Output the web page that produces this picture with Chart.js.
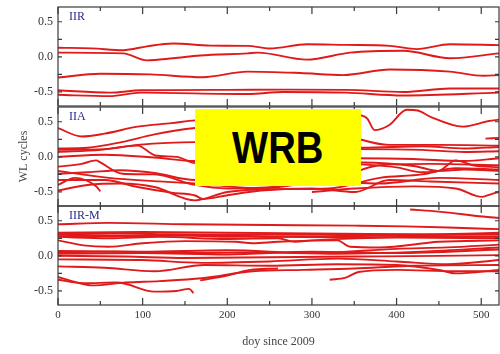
<!DOCTYPE html>
<html>
<head>
<meta charset="utf-8">
<script src="https://cdn.jsdelivr.net/npm/chart.js@4.4.0/dist/chart.umd.min.js"></script>
<style>
  body { margin: 0; background: #fff; }
  #wrap { position: relative; width: 500px; height: 354px; overflow: hidden; }
  .panel { position: absolute; left: 0; width: 500px; }
  #wrb { position: absolute; left: 195px; top: 109px; width: 166px; height: 77px; background: #ffff00;
         display: flex; align-items: center; justify-content: center; }
  #wrb span { font-family: 'Liberation Sans', Arial, sans-serif; font-weight: bold; font-size: 45px;
              color: #000; display: inline-block; transform: scaleX(0.85); }
</style>
</head>
<body>
<div id="wrap">
  <div class="panel" style="top:0;height:108px"><canvas id="c1" width="500" height="108"></canvas></div>
  <div class="panel" style="top:100px;height:108px"><canvas id="c2" width="500" height="108"></canvas></div>
  <div class="panel" style="top:199px;height:155px"><canvas id="c3" width="500" height="155"></canvas></div>
  <div id="wrb"><span>WRB</span></div>
</div>
<script>
// panel names
var panelLabels = ['IIR', 'IIA', 'IIR-M'];
var xTicks = [0, 100, 200, 300, 400, 500];
var yTicks = [-0.5, 0, 0.5];

// each line = list of [doy, WL cycles]
var iirLines = [
  [[0,0.13],[40,0.12],[77,0.095],[105,0.15],[136,0.19],[180,0.16],[224,0.157],[250,0.12],[294,0.18],[340,0.17],[392,0.157],[424,0.11],[463,0.18],[521,0.167]],
  [[0,0.06],[77,0.05],[105,-0.05],[136,-0.02],[168,0.02],[224,0.05],[236,0.06],[294,-0.04],[345,0.06],[408,0.086],[463,-0.02],[521,0.05]],
  [[0,-0.295],[50,-0.24],[109,-0.25],[171,-0.29],[224,-0.21],[286,-0.23],[337,-0.26],[392,-0.18],[463,-0.21],[503,-0.27],[521,-0.26]],
  [[0,-0.476],[61,-0.51],[98,-0.476],[200,-0.47],[266,-0.467],[340,-0.47],[408,-0.5],[463,-0.45],[521,-0.45]],
  [[0,-0.54],[61,-0.56],[98,-0.51],[224,-0.53],[266,-0.5],[340,-0.51],[408,-0.55],[521,-0.51]]
];

var iiaLines = [
  [[0,0.41],[28,0.29],[55,0.33],[94,0.43],[134,0.48],[162,0.52],[220,0.55],[280,0.58],[330,0.6],[351,0.6],[365,0.55],[374,0.38],[391,0.45],[412,0.67],[425,0.66],[440,0.57],[478,0.43],[509,0.51],[521,0.53]],
  [[0,0.12],[35,0.13],[75,0.21],[114,0.32],[162,0.41],[220,0.45],[280,0.42],[340,0.3],[391,0.17],[450,0.17],[521,0.16]],
  [[0,0.10],[55,0.11],[94,0.17],[162,0.21],[230,0.2],[300,0.16],[360,0.13],[430,0.15],[480,0.12],[521,0.14]],
  [[0,0.07],[50,0.1],[94,0.16],[115,0.02],[140,0.0],[162,-0.09],[220,-0.12],[280,-0.05],[351,-0.02],[420,-0.03],[480,-0.06],[521,-0.02]],
  [[0,0.0],[55,0.03],[114,-0.01],[162,-0.06],[250,-0.04],[351,0.11],[430,0.1],[480,0.07],[521,0.08]],
  [[0,-0.14],[28,-0.1],[45,-0.05],[50,-0.08],[76,-0.24],[114,-0.25],[162,-0.4],[200,-0.45],[260,-0.42],[330,-0.3],[380,-0.12],[440,-0.1],[521,-0.12]],
  [[0,-0.24],[35,-0.22],[75,-0.19],[114,-0.23],[162,-0.33],[230,-0.3],[300,-0.2],[360,-0.08],[420,-0.13],[450,-0.2],[480,-0.18],[521,-0.2]],
  [[0,-0.33],[55,-0.33],[94,-0.43],[134,-0.51],[162,-0.55],[171,-0.6],[199,-0.55],[240,-0.48],[300,-0.45],[351,-0.5],[391,-0.33],[440,-0.35],[521,-0.38]],
  [[0,-0.4],[20,-0.3],[45,-0.42],[50,-0.49]],
  [[0,-0.48],[35,-0.4],[75,-0.38],[114,-0.43],[162,-0.62],[200,-0.5],[260,-0.46],[320,-0.45],[380,-0.3],[430,-0.25],[470,-0.16],[521,-0.18]],
  [[300,-0.5],[351,-0.45],[420,-0.42],[470,-0.45],[501,-0.57],[512,-0.53],[521,-0.5]],
  [[351,-0.1],[400,-0.15],[430,-0.22],[450,-0.2],[470,-0.05],[490,-0.12],[521,-0.15]],
  [[0,-0.2],[60,-0.3],[120,-0.35],[162,-0.38],[240,-0.45],[320,-0.35],[380,-0.38],[450,-0.3],[521,-0.33]],
  [[505,0.26],[521,0.27]]
];

var iirmLines = [
  [[0,0.45],[60,0.47],[150,0.45],[250,0.44],[350,0.43],[410,0.42],[470,0.4],[521,0.38]],
  [[0,0.33],[100,0.34],[200,0.33],[300,0.32],[400,0.31],[521,0.3]],
  [[0,0.31],[60,0.32],[120,0.31],[220,0.3],[320,0.31],[420,0.3],[521,0.31]],
  [[0,0.3],[80,0.29],[130,0.3],[200,0.27],[300,0.28],[400,0.29],[521,0.33]],
  [[0,0.28],[90,0.28],[180,0.29],[260,0.27],[360,0.26],[450,0.28],[521,0.27]],
  [[0,0.27],[60,0.25],[120,0.27],[200,0.24],[260,0.25],[280,0.2],[300,0.22],[400,0.26],[521,0.25]],
  [[0,0.22],[30,0.15],[60,0.13],[100,0.18],[150,0.21],[210,0.2],[230,0.18],[260,0.2],[330,0.22],[345,0.13],[380,0.12],[450,0.2],[521,0.22]],
  [[0,0.07],[100,0.06],[200,0.08],[300,0.04],[400,0.1],[460,0.12],[521,0.16]],
  [[0,0.05],[70,0.06],[150,0.04],[230,0.05],[330,0.03],[430,0.06],[521,0.12]],
  [[0,0.03],[100,0.04],[200,0.02],[300,0.06],[400,0.04],[521,0.09]],
  [[0,0.0],[80,-0.01],[150,-0.03],[250,-0.02],[350,-0.01],[450,0.0],[521,0.01]],
  [[0,-0.05],[100,-0.06],[170,-0.1],[250,-0.08],[330,-0.04],[400,-0.08],[460,-0.12],[521,-0.06]],
  [[0,-0.15],[55,-0.17],[114,-0.22],[173,-0.13],[250,-0.14],[330,-0.12],[400,-0.13],[450,-0.2],[470,-0.25],[521,-0.2]],
  [[0,-0.3],[20,-0.37],[40,-0.42],[80,-0.38],[120,-0.36],[170,-0.32],[230,-0.22],[290,-0.2],[350,-0.18],[420,-0.14],[521,-0.13]],
  [[0,-0.34],[30,-0.39],[70,-0.38],[114,-0.51],[140,-0.5],[155,-0.47],[160,-0.53]],
  [[168,-0.35],[200,-0.28],[227,-0.2],[260,-0.18]],
  [[321,-0.34],[340,-0.31],[355,-0.23],[400,-0.2],[470,-0.22],[521,-0.22]],
  [[416,0.66],[450,0.63],[502,0.56],[521,0.54]]
];

var serif = '"Liberation Serif", "Times New Roman", serif';

// frame, inward ticks and panel name
var framePlugin = {
  id: 'frame',
  afterDatasetsDraw: function(chart, args, opts) {
    var ctx = chart.ctx, a = chart.chartArea;
    var x = chart.scales.x, y = chart.scales.y;
    ctx.save();
    ctx.strokeStyle = '#3a3a3a';
    ctx.lineWidth = 1.2;
    ctx.beginPath();
    for (var v = 0; v <= x.max; v += 50) {
      var px = x.getPixelForValue(v);
      var len = v % 100 === 0 ? 7 : 4;
      ctx.moveTo(px, a.top); ctx.lineTo(px, a.top + len);
      ctx.moveTo(px, a.bottom); ctx.lineTo(px, a.bottom - len);
    }
    for (var w = -0.5; w <= 0.5; w += 0.25) {
      var py = y.getPixelForValue(w);
      ctx.moveTo(a.left, py); ctx.lineTo(a.left + 4, py);
      ctx.moveTo(a.right, py); ctx.lineTo(a.right - 4, py);
    }
    ctx.stroke();
    ctx.strokeRect(a.left, a.top, a.right - a.left, a.bottom - a.top);
    ctx.fillStyle = '#2b2b8c';
    ctx.font = '12px ' + serif;
    ctx.textBaseline = 'middle';
    ctx.fillText(opts.text, a.left + 11, a.top + 10);
    ctx.restore();
  }
};

function makePanel(id, lines, label, showX, showYTitle, padTop, padBottom) {
  var datasets = lines.map(function(l) {
    return {
      data: l.map(function(p) { return {x: p[0], y: p[1]}; }),
      borderColor: 'rgb(224,26,26)',
      borderWidth: 1.9,
      pointRadius: 0,
      cubicInterpolationMode: 'monotone',
      fill: false
    };
  });
  return new Chart(document.getElementById(id), {
    type: 'line',
    data: { datasets: datasets },
    options: {
      responsive: false,
      animation: false,
      layout: { padding: { top: padTop, bottom: padBottom, left: 0, right: 1 } },
      plugins: { legend: { display: false }, tooltip: { enabled: false }, frame: { text: label } },
      scales: {
        x: {
          type: 'linear', min: 0, max: 521,
          display: showX,
          grid: { display: false, drawTicks: false },
          border: { display: false },
          afterBuildTicks: function(s) { s.ticks = xTicks.map(function(v) { return {value: v}; }); },
          afterFit: function(s) {
            if (showX) s.height = 49;
            s.paddingLeft = 0; s.paddingRight = 0;
          },
          ticks: { font: { family: serif, size: 11 }, color: '#333', padding: 4, maxRotation: 0 },
          title: { display: true, text: 'doy since 2009', font: { family: serif, size: 12 }, color: '#444', padding: { bottom: 5 } }
        },
        y: {
          min: -0.7, max: 0.71,
          grid: { display: false, drawTicks: false },
          border: { display: false },
          afterBuildTicks: function(s) { s.ticks = yTicks.map(function(v) { return {value: v}; }); },
          afterFit: function(s) { s.width = 58; s.paddingTop = 0; s.paddingBottom = 0; },
          ticks: { font: { family: serif, size: 12 }, color: '#333', padding: 5,
                   callback: function(v) { return Number(v).toFixed(1); } },
          title: { display: showYTitle, text: 'WL cycles', font: { family: serif, size: 12 }, color: '#444', padding: { top: 17 } }
        }
      }
    },
    plugins: [framePlugin]
  });
}

makePanel('c1', iirLines, panelLabels[0], false, false, 7, 2);
makePanel('c2', iiaLines, panelLabels[1], false, true, 7, 2);
makePanel('c3', iirmLines, panelLabels[2], true, false, 7, 0);
</script>
</body>
</html>
